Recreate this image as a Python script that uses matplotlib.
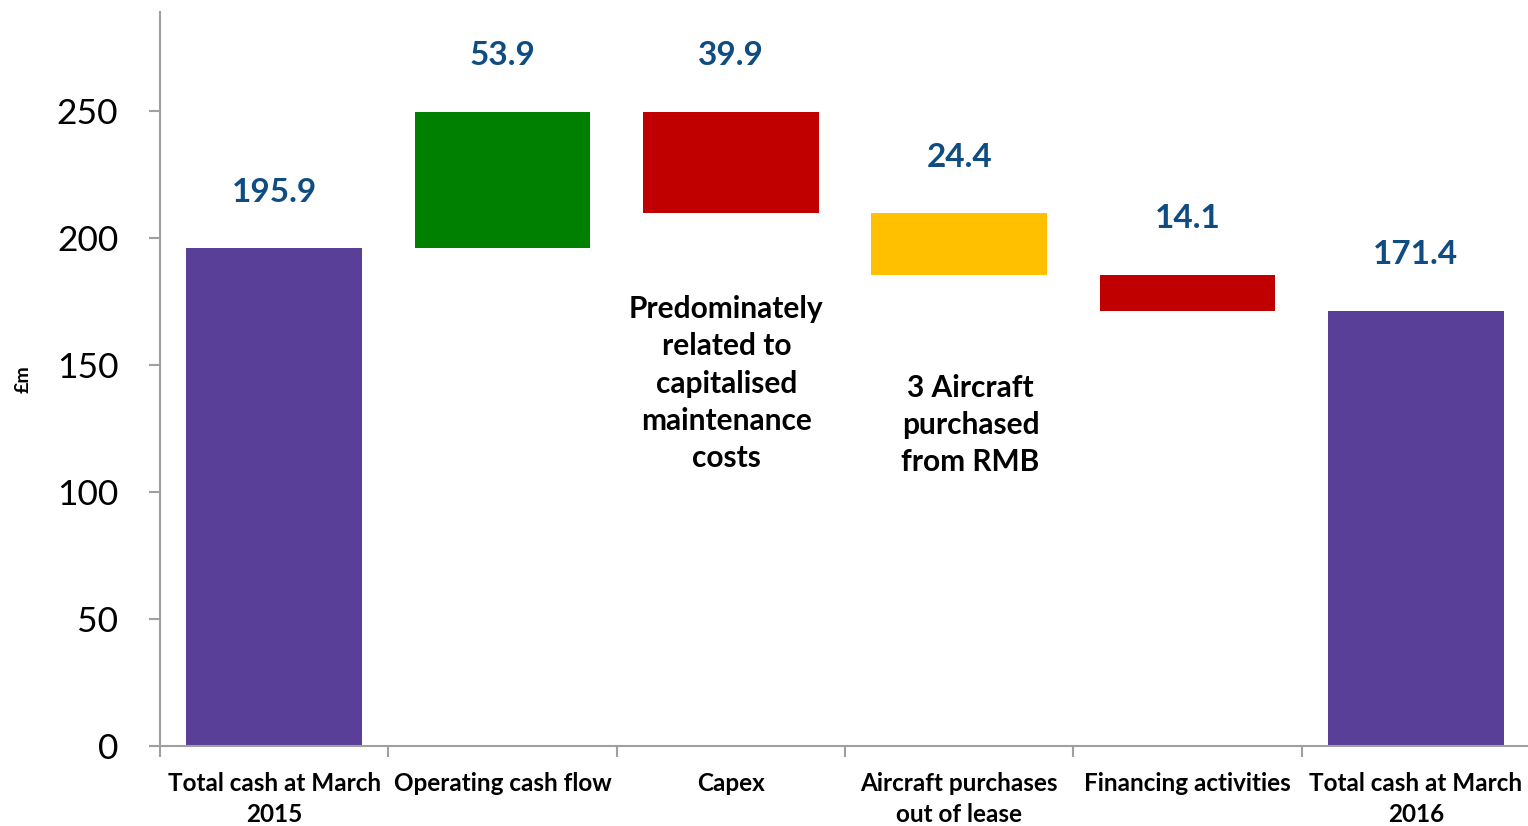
import numpy as np
import matplotlib
matplotlib.use('Agg')
import matplotlib.pyplot as plt
from matplotlib.ticker import FixedLocator

# Cash bridge, £m
categories = [
    "Total cash at March\n2015",
    "Operating cash flow",
    "Capex",
    "Aircraft purchases\nout of lease",
    "Financing activities",
    "Total cash at March\n2016",
]
opening_cash = 195.9
movements = [53.9, -39.9, -24.4, -14.1]
bar_colors = ["#5A3F98", "#008000", "#C00000", "#FFC000", "#C00000", "#5A3F98"]
yticks = [0, 50, 100, 150, 200, 250]

LABEL_BLUE = "#0F4C81"
AXIS_GREY = "#A0A0A0"

plt.rcParams['font.family'] = ['Lato', 'DejaVu Sans']

# build the floating bars
closing_cash = round(opening_cash + sum(movements), 1)
bottoms = [0.0]
heights = [opening_cash]
level = opening_cash
for m in movements:
    if m >= 0:
        bottoms.append(level)
        heights.append(m)
    else:
        bottoms.append(level + m)
        heights.append(-m)
    level += m
bottoms.append(0.0)
heights.append(closing_cash)
shown_values = [opening_cash] + [abs(m) for m in movements] + [closing_cash]

fig = plt.figure(figsize=(15.28, 8.26), dpi=100)
ax = fig.add_axes([160 / 1528, 80 / 826, 1370 / 1528, 734 / 826])

x = np.arange(len(categories))
ax.bar(x, heights, bottom=bottoms, width=0.77, color=bar_colors, zorder=2)

for xi, b, h, v in zip(x, bottoms, heights, shown_values):
    ax.text(xi, b + h + 22, f"{v:.1f}", ha='center', va='center',
            fontsize=24, fontweight='bold', color=LABEL_BLUE)

ax.text(2 - 0.02, 177.5, "Predominately\nrelated to\ncapitalised\nmaintenance\ncosts",
        ha='center', va='top', fontsize=21.5, fontweight='bold',
        linespacing=1.4, color='black')
ax.text(3 + 0.05, 146.5, "3 Aircraft\npurchased\nfrom RMB",
        ha='center', va='top', fontsize=21.5, fontweight='bold',
        linespacing=1.4, color='black')

ax.set_xlim(-0.5, len(categories) - 0.5)
ax.set_ylim(0, 289)
ax.set_yticks(yticks)
ax.tick_params(axis='y', labelsize=25.5, length=8, width=1.5, color=AXIS_GREY, pad=22)

ax.set_xticks(x)
ax.set_xticklabels(categories, fontsize=17.5, fontweight='bold', linespacing=1.4)
ax.tick_params(axis='x', which='major', length=0, pad=19)
ax.xaxis.set_minor_locator(FixedLocator(np.arange(-0.5, len(categories), 1.0)))
ax.tick_params(axis='x', which='minor', length=8, width=1.5, color=AXIS_GREY)

for side in ['top', 'right']:
    ax.spines[side].set_visible(False)
for side in ['left', 'bottom']:
    ax.spines[side].set_color(AXIS_GREY)
    ax.spines[side].set_linewidth(1.5)

ax.set_ylabel("£m", fontsize=14, fontweight='bold', labelpad=18)

fig.savefig("out.png", dpi=100)
